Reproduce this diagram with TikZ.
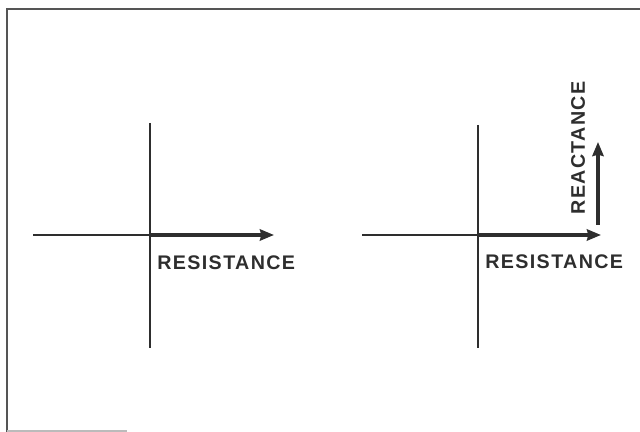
\documentclass[tikz,border=0pt]{standalone}
\usepackage{fontspec}
\newfontfamily\axisfont[LetterSpace=7]{Liberation Sans}
\usetikzlibrary{arrows.meta,positioning}
\definecolor{inkgray}{HTML}{2E2E2E}
\definecolor{framegray}{HTML}{555555}

\begin{document}
\begin{tikzpicture}[
    x=0.025cm, y=0.025cm,
    axis/.style={inkgray, line width=1.1pt},
    vec/.style={inkgray, line width=2.2pt, -{Stealth[length=10pt, width=8pt, inset=1pt]}},
    lbl/.style={font=\axisfont\bfseries\fontsize{14}{16}\selectfont, text=inkgray, inner sep=0pt}
  ]
  \useasboundingbox (0,0) rectangle (640,432);

  % ---- Frame ----
  \draw[framegray, line width=1.4pt] (7,0) -- (7,423) -- (640,423);
  \draw[framegray!40, line width=0.8pt] (7,1) -- (127,1);

  % ============ LEFT: resistance only ============
  \coordinate (O1) at (150,197);
  \coordinate (W1) at (33,197);
  \coordinate (R1) at (274,197);
  \coordinate (N1) at (150,309);
  \coordinate (S1) at (150,84);

  \draw[axis] (W1) -- (O1);
  \draw[axis] (N1) -- (S1);
  \draw[vec] (O1) -- (R1);
  \node[lbl, anchor=west] (res1) at (157,169) {RESISTANCE};

  % ============ RIGHT: resistance and reactance ============
  \coordinate (O2) at (478,197);
  \coordinate (W2) at (362,197);
  \coordinate (R2) at (601,197);
  \coordinate (N2) at (478,307);
  \coordinate (S2) at (478,84);
  \coordinate (X0) at (598,207);
  \coordinate (X1) at (598,290);

  \draw[axis] (W2) -- (O2);
  \draw[axis] (N2) -- (S2);
  \draw[vec] (O2) -- (R2);
  \draw[vec] (X0) -- (X1);
  \node[lbl, anchor=west] (res2) at (485,170) {RESISTANCE};
  \node[lbl, rotate=90] (rea) at (578,284) {REACTANCE};

\end{tikzpicture}
\end{document}
